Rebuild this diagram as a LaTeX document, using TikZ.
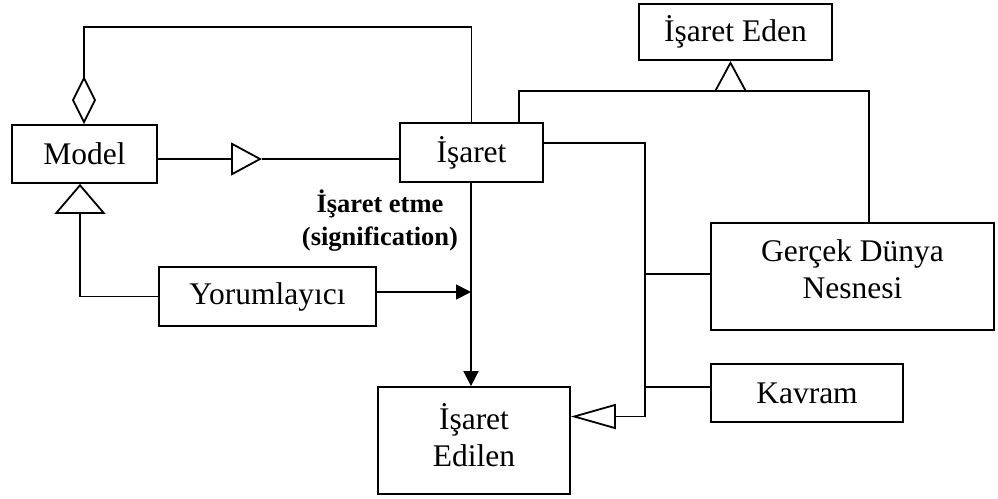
\documentclass[tikz,border=0pt]{standalone}
\usepackage{fontspec}
\setmainfont{Liberation Serif}
\usetikzlibrary{arrows.meta}
\begin{document}
\begin{tikzpicture}[x=1pt,y=-1pt,line width=1.8pt,
  box/.style={draw,rectangle,inner sep=0pt,align=center,
    font=\fontsize{31.5}{37}\selectfont},
  txt/.style={inner sep=0pt,align=center,font=\fontsize{31.5}{37}\selectfont},
  lbl/.style={align=center,font=\fontsize{26.5}{33}\selectfont\bfseries},
  gen/.style={-{Triangle[open,length=#1]}},
  agg/.style={{Diamond[open,length=48pt,width=24pt]}-},
  flow/.style={-{Triangle[length=15pt,width=15pt]}}]
\useasboundingbox (0,0) rectangle (998,498);

% classes
\node[box,minimum width=145pt,minimum height=58pt]  (model)  at (84.5,154)  {Model};
\node[box,minimum width=143pt,minimum height=59pt]  (isaret) at (471.5,152.5) {İşaret};
\node[box,minimum width=193pt,minimum height=56pt]  (eden)   at (735.5,32)  {İşaret Eden};
\node[box,minimum width=217pt,minimum height=59pt]  (yorum)  at (267.5,296.5) {Yorumlayıcı};
\node[box,minimum width=192pt,minimum height=107pt] (edilen) at (474,440.5) {};
\node[txt] (edilenT) at ([yshift=5pt]edilen.center) {İşaret\\Edilen};
\node[box,minimum width=283pt,minimum height=107pt] (gercek) at (852.5,276.5) {};
\node[txt] (gercekT) at ([yshift=7pt]gercek.center) {Gerçek Dünya\\Nesnesi};
\node[box,minimum width=192pt,minimum height=58pt]  (kavram) at (807,393)   {Kavram};

\node[lbl] (sig) at (380,221) {İşaret etme\\(signification)};

% routing points
\coordinate (top)  at (84,27);
\coordinate (g1)   at (262,159);
\coordinate (yl)   at (80,296.5);
\coordinate (j)    at (471,292);
\coordinate (eapex) at (730.5,91);
\coordinate (eL)   at (519,91);
\coordinate (eR)   at (869,91);
\coordinate (bus)  at (645,143);
\coordinate (bg)   at (645,274);
\coordinate (bk)   at (645,387);
\coordinate (be)   at (645,416.5);

% aggregation Model <>-- İşaret
\draw[agg] (model.north -| top) -- (top) -| (isaret.north);

% Model --|> İşaret
\draw[gen={31pt,width=33pt}] (model.east |- g1) -- (g1);
\draw (g1) -- (isaret.west |- g1);

% Yorumlayıcı --|> Model
\draw[gen={30pt,width=51pt}] (yorum.west) -- (yl) -- (yl |- model.south);

% signification
\draw[flow] (yorum.east |- j) -- (j);
\draw[flow] (isaret.south -| j) -- (edilen.north -| j);

% İşaret, Gerçek Dünya Nesnesi --|> İşaret Eden
\draw[gen={31pt,width=33pt}] (eapex) -- (eapex |- eden.south);
\draw (eL |- isaret.north) -- (eL) -- (eR) -- (eR |- gercek.north);

% İşaret, Gerçek Dünya Nesnesi, Kavram --|> İşaret Edilen
\draw (isaret.east |- bus) -- (bus) -- (be);
\draw[gen={45pt,width=25pt}] (be) -- (edilen.east |- be);
\draw (bg) -- (gercek.west |- bg);
\draw (bk) -- (kavram.west |- bk);
\end{tikzpicture}
\end{document}
